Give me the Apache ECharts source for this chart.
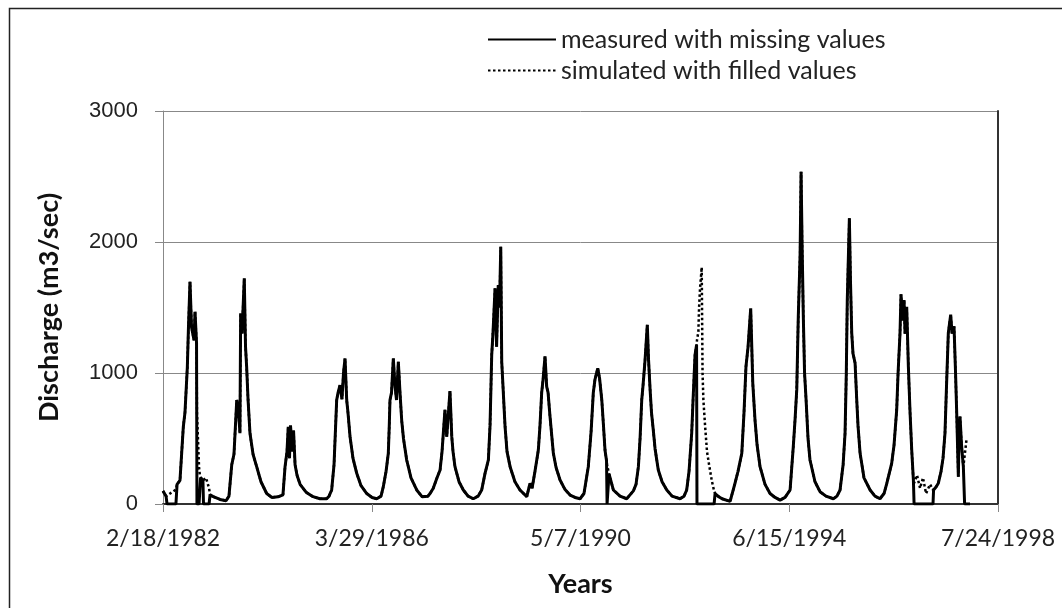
<!DOCTYPE html>
<html>
<head>
<meta charset="utf-8">
<title>Discharge</title>
<script src="https://cdn.jsdelivr.net/npm/echarts@6/dist/echarts.min.js"></script>
<style>
  html, body { margin: 0; padding: 0; background: #fff; }
  #chart { width: 1062px; height: 608px; }
</style>
</head>
<body>
<div id="chart"></div>
<script>
// x values are Excel date serials (30000 = 2/18/1982)
const dates = [
  30000, 30022, 30029, 30093, 30101, 30122, 30146, 30158, 30175, 30183, 30194, 30205, 30213, 30223, 30230, 30241,
  30244, 30259, 30266, 30270, 30287, 30291, 30309, 30331, 30338, 30361, 30410, 30453, 30474, 30494, 30510, 30530,
  30543, 30553, 30558, 30568, 30584, 30593, 30601, 30611, 30625, 30647, 30673, 30704, 30745, 30783, 30826, 30862,
  30877, 30891, 30900, 30909, 30916, 30925, 30931, 30938, 30949, 30963, 30985, 31028, 31078, 31128, 31176, 31193,
  31212, 31229, 31248, 31258, 31272, 31286, 31297, 31308, 31320, 31329, 31344, 31365, 31392, 31423, 31464, 31502,
  31536, 31567, 31583, 31603, 31619, 31626, 31631, 31642, 31655, 31667, 31678, 31691, 31703, 31715, 31728, 31751,
  31782, 31823, 31861, 31904, 31919, 31942, 31969, 31991, 32005, 32026, 32039, 32048, 32062, 32075, 32084, 32098,
  32127, 32158, 32192, 32230, 32264, 32290, 32314, 32338, 32350, 32362, 32371, 32386, 32397, 32409, 32418, 32427,
  32434, 32443, 32458, 32472, 32494, 32529, 32565, 32614, 32637, 32652, 32673, 32697, 32709, 32721, 32731, 32745,
  32757, 32767, 32781, 32805, 32824, 32853, 32889, 32925, 32961, 32997, 33025, 33056, 33076, 33092, 33104, 33124,
  33137, 33153, 33165, 33176, 33187, 33191, 33201, 33205, 33236, 33284, 33332, 33380, 33399, 33416, 33428, 33440,
  33449, 33464, 33480, 33489, 33500, 33510, 33523, 33536, 33559, 33586, 33620, 33658, 33715, 33744, 33763, 33780,
  33799, 33809, 33823, 33834, 33837, 33847, 33852, 33859, 33871, 33877, 33883, 33895, 33909, 33924, 33943, 33960,
  33967, 33988, 34017, 34075, 34110, 34132, 34159, 34175, 34189, 34204, 34223, 34238, 34254, 34269, 34290, 34326,
  34362, 34398, 34434, 34470, 34506, 34529, 34542, 34554, 34565, 34578, 34585, 34592, 34601, 34610, 34621, 34635,
  34649, 34685, 34721, 34764, 34817, 34843, 34865, 34887, 34901, 34910, 34917, 34932, 34940, 34949, 34958, 34973,
  34985, 34994, 35009, 35037, 35081, 35116, 35152, 35181, 35201, 35236, 35253, 35272, 35282, 35296, 35303, 35314,
  35325, 35332, 35344, 35356, 35368, 35380, 35392, 35397, 35418, 35440, 35461, 35483, 35512, 35533, 35537, 35555,
  35571, 35591, 35605, 35619, 35630, 35643, 35660, 35670, 35684, 35695, 35704, 35715, 35720, 35727, 35738, 35751,
  35760, 35775, 35799
];

// measured discharge, gaps (missing values) drop to 0
const measured = [
  100, 60, 0, 0, 150, 180, 590, 700, 1048, 1350, 1697, 1350, 1305, 1250, 1468, 1228,
  0, 0, 0, 200, 180, 0, 0, 0, 70, 56, 35, 25, 60, 300, 380, 794,
  700, 540, 1456, 1300, 1723, 1200, 1048, 800, 540, 380, 285, 170, 80, 50, 55, 70,
  285, 400, 590, 350, 600, 615, 400, 560, 300, 220, 150, 90, 56, 40, 40, 60,
  107, 300, 794, 850, 907, 800, 1000, 1111, 794, 700, 514, 350, 234, 140, 80, 50,
  40, 60, 132, 250, 387, 600, 794, 850, 1111, 900, 794, 1086, 850, 641, 500, 336,
  200, 107, 56, 60, 80, 120, 200, 260, 400, 718, 514, 650, 862, 514, 400, 285,
  170, 107, 60, 40, 60, 107, 234, 336, 600, 1137, 1300, 1646, 1200, 1671, 1500, 1963,
  1086, 900, 590, 400, 285, 170, 107, 56, 158, 120, 250, 412, 600, 850, 950, 1127,
  896, 850, 667, 387, 280, 183, 110, 68, 50, 40, 80, 285, 550, 850, 950, 1036,
  960, 794, 600, 412, 330, 0, 0, 230, 107, 60, 40, 100, 150, 285, 500, 794,
  900, 1100, 1367, 1100, 875, 700, 565, 420, 260, 170, 107, 60, 40, 60, 107, 250,
  540, 800, 1137, 1213, 0, 0, 0, 0, 0, 0, 0, 0, 0, 0, 0, 0,
  80, 60, 40, 20, 158, 250, 387, 700, 1048, 1200, 1494, 921, 641, 450, 285, 150,
  80, 50, 30, 50, 107, 438, 650, 875, 1433, 1900, 2537, 2000, 1433, 1000, 794, 500,
  336, 170, 94, 60, 40, 60, 107, 300, 540, 1000, 1557, 2181, 1700, 1305, 1150, 1076,
  794, 600, 387, 200, 107, 60, 40, 80, 158, 310, 450, 718, 1000, 1305, 1600, 1400,
  1557, 1300, 1506, 1048, 700, 412, 183, 0, 0, 0, 0, 0, 0, 0, 107, 130,
  158, 250, 350, 540, 900, 1305, 1445, 1300, 1356, 1000, 667, 209, 500, 667, 450, 285,
  0, 0, 0
];

// simulated discharge, gaps filled
const simulated = [
  100, 60, 50, 110, 150, 180, 590, 700, 1048, 1350, 1697, 1350, 1305, 1250, 1468, 1228,
  700, 280, 209, 200, 180, 190, 200, 120, 70, 56, 35, 25, 60, 300, 380, 794,
  700, 540, 1456, 1300, 1723, 1200, 1048, 800, 540, 380, 285, 170, 80, 50, 55, 70,
  285, 400, 590, 350, 600, 615, 400, 560, 300, 220, 150, 90, 56, 40, 40, 60,
  107, 300, 794, 850, 907, 800, 1000, 1111, 794, 700, 514, 350, 234, 140, 80, 50,
  40, 60, 132, 250, 387, 600, 794, 850, 1111, 900, 794, 1086, 850, 641, 500, 336,
  200, 107, 56, 60, 80, 120, 200, 260, 400, 718, 514, 650, 862, 514, 400, 285,
  170, 107, 60, 40, 60, 107, 234, 336, 600, 1137, 1300, 1646, 1200, 1671, 1500, 1963,
  1086, 900, 590, 400, 285, 170, 107, 56, 158, 120, 250, 412, 600, 850, 950, 1127,
  896, 850, 667, 387, 280, 183, 110, 68, 50, 40, 80, 285, 550, 850, 950, 1036,
  960, 794, 600, 412, 330, 300, 250, 230, 107, 60, 40, 100, 150, 285, 500, 794,
  900, 1100, 1367, 1100, 875, 700, 565, 420, 260, 170, 107, 60, 40, 60, 107, 250,
  540, 800, 1137, 1213, 1250, 1315, 1500, 1646, 1807, 1000, 794, 600, 400, 300, 180, 100,
  80, 60, 40, 20, 158, 250, 387, 700, 1048, 1200, 1494, 921, 641, 450, 285, 150,
  80, 50, 30, 50, 107, 438, 650, 875, 1433, 1900, 2537, 2000, 1433, 1000, 794, 500,
  336, 170, 94, 60, 40, 60, 107, 300, 540, 1000, 1557, 2181, 1700, 1305, 1150, 1076,
  794, 600, 387, 200, 107, 60, 40, 80, 158, 310, 450, 718, 1000, 1305, 1600, 1400,
  1557, 1300, 1506, 1048, 700, 412, 183, 160, 220, 120, 200, 80, 150, 107, 107, 130,
  158, 250, 350, 540, 900, 1305, 1445, 1300, 1356, 1000, 667, 209, 500, 667, 450, 285,
  300, 503, null
];

const xMin = 30000;
const xMax = 36000;
const xStep = 1500;
const yTicks = [0, 1000, 2000, 3000];

const seriesNames = ['measured with missing values', 'simulated with filled values'];

// Excel serial -> M/D/YYYY
const serialToLabel = (serial) => {
  const d = new Date(Date.UTC(1899, 11, 30) + serial * 86400000);
  return (d.getUTCMonth() + 1) + '/' + d.getUTCDate() + '/' + d.getUTCFullYear();
};

const chart = echarts.init(document.getElementById('chart'));

const labelFont = 'Lato, "Open Sans", sans-serif';

const option = {
  animation: false,
  backgroundColor: '#fff',
  graphic: [
    {
      type: 'rect',
      left: 7,
      top: 6,
      shape: { width: 1100, height: 700 },
      style: { fill: 'none', stroke: '#222', lineWidth: 1.5 },
      silent: true
    }
  ],
  legend: {
    orient: 'vertical',
    left: 482,
    top: 22,
    itemWidth: 68,
    itemHeight: 18,
    itemGap: 6,
    data: seriesNames,
    itemStyle: { opacity: 0 },
    textStyle: {
      fontFamily: labelFont,
      fontSize: 25,
      color: '#222'
    }
  },
  grid: {
    left: 163,
    right: 64,
    top: 111,
    bottom: 104
  },
  xAxis: [
    {
      type: 'value',
      min: xMin,
      max: xMax,
      interval: xStep,
      name: 'Years',
      nameLocation: 'middle',
      nameGap: 67,
      nameTextStyle: {
        fontFamily: labelFont,
        fontSize: 27,
        fontWeight: 'bold',
        color: '#111'
      },
      axisLine: { lineStyle: { color: '#888', width: 1 } },
      axisTick: { show: true, inside: false, length: 8, lineStyle: { color: '#888' } },
      axisLabel: {
        margin: 23,
        fontFamily: labelFont,
        fontSize: 23,
        color: '#222',
        formatter: (v) => serialToLabel(v)
      },
      splitLine: { show: false }
    },
    {
      type: 'value',
      position: 'top',
      min: xMin,
      max: xMax,
      axisLine: { lineStyle: { color: '#333', width: 2 } },
      axisTick: { show: false },
      axisLabel: { show: false },
      splitLine: { show: false }
    }
  ],
  yAxis: [
    {
      type: 'value',
      min: yTicks[0],
      max: yTicks[yTicks.length - 1],
      interval: yTicks[1] - yTicks[0],
      name: 'Discharge (m3/sec)',
      nameLocation: 'middle',
      nameGap: 100,
      nameTextStyle: {
        fontFamily: labelFont,
        fontSize: 27,
        fontWeight: 'bold',
        color: '#111'
      },
      axisLine: { show: true, lineStyle: { color: '#888', width: 1 } },
      axisTick: { show: true, inside: false, length: 8, lineStyle: { color: '#888' } },
      axisLabel: {
        margin: 25,
        fontFamily: '"Liberation Sans", Arial, sans-serif',
        fontSize: 22,
        color: '#222',
        formatter: (v) => String(v)
      },
      splitLine: { lineStyle: { color: '#888', width: 1 } }
    },
    {
      type: 'value',
      position: 'right',
      min: yTicks[0],
      max: yTicks[yTicks.length - 1],
      axisLine: { show: true, lineStyle: { color: '#333', width: 2 } },
      axisTick: { show: false },
      axisLabel: { show: false },
      splitLine: { show: false }
    }
  ],
  series: [
    {
      name: seriesNames[0],
      type: 'line',
      data: dates.map((d, i) => [d, measured[i]]),
      showSymbol: false,
      symbol: 'none',
      z: 3,
      color: '#000',
      lineStyle: { color: '#000', width: 3 }
    },
    {
      name: seriesNames[1],
      type: 'line',
      data: dates.map((d, i) => [d, simulated[i]]),
      showSymbol: false,
      symbol: 'none',
      z: 2,
      color: '#000',
      lineStyle: { color: '#000', width: 2.5, type: [2.5, 2.5] }
    }
  ]
};

chart.setOption(option);
</script>
</body>
</html>
